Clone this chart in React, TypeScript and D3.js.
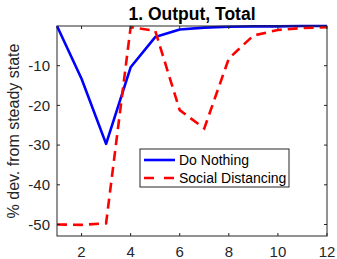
import { useEffect, useRef } from 'react';
import * as d3 from 'd3';

const periods = [1, 2, 3, 4, 5, 6, 7, 8, 9, 10, 11, 12];
const doNothing = [0, -13.3, -29.7, -10.4, -2.8, -0.9, -0.4, -0.2, -0.1, -0.1, 0, 0];
const socialDistancing = [-50, -50.1, -49.7, -0.3, -1.2, -21.2, -25.8, -8.2, -2.4, -1.0, -0.5, -0.3];
const xTicks = [2, 4, 6, 8, 10, 12];
const yTicks = [-50, -40, -30, -20, -10];

export default function App() {
  const svgRef = useRef<SVGSVGElement>(null);

  useEffect(() => {
    if (!svgRef.current) return;
    const svg = d3.select(svgRef.current);
    svg.selectAll('*').remove();

    const width = 337;
    const height = 259;
    const margin = { top: 26, right: 10, bottom: 23, left: 57 };
    const innerWidth = width - margin.left - margin.right;
    const innerHeight = height - margin.top - margin.bottom;
    const font = '"Liberation Sans", Arial, sans-serif';
    const axisColor = '#262626';

    const g = svg.append('g').attr('transform', `translate(${margin.left},${margin.top})`);

    const x = d3.scaleLinear().domain([1, 12]).range([0, innerWidth]);
    const y = d3.scaleLinear().domain([-52.9, 0]).range([innerHeight, 0]);

    // Lines
    const line = d3.line<number>()
      .x((_, i) => x(periods[i]))
      .y(d => y(d));

    g.append('path')
      .datum(doNothing)
      .attr('fill', 'none')
      .attr('stroke', '#0000ff')
      .attr('stroke-width', 2.6)
      .attr('stroke-linejoin', 'round')
      .attr('d', line);

    g.append('path')
      .datum(socialDistancing)
      .attr('fill', 'none')
      .attr('stroke', '#ff0000')
      .attr('stroke-width', 2.6)
      .attr('stroke-dasharray', '10,6')
      .attr('d', line);

    // Box
    g.append('rect')
      .attr('width', innerWidth)
      .attr('height', innerHeight)
      .attr('fill', 'none')
      .attr('stroke', axisColor)
      .attr('stroke-width', 1);

    const tl = 3;
    xTicks.forEach(t => {
      g.append('line').attr('x1', x(t)).attr('x2', x(t)).attr('y1', innerHeight).attr('y2', innerHeight - tl).attr('stroke', axisColor);
      g.append('line').attr('x1', x(t)).attr('x2', x(t)).attr('y1', 0).attr('y2', tl).attr('stroke', axisColor);
      g.append('text')
        .attr('x', x(t))
        .attr('y', innerHeight + 21)
        .attr('text-anchor', 'middle')
        .style('font-family', font)
        .style('font-size', '15px')
        .style('fill', axisColor)
        .text(t);
    });

    yTicks.forEach(t => {
      g.append('line').attr('x1', 0).attr('x2', tl).attr('y1', y(t)).attr('y2', y(t)).attr('stroke', axisColor);
      g.append('line').attr('x1', innerWidth).attr('x2', innerWidth - tl).attr('y1', y(t)).attr('y2', y(t)).attr('stroke', axisColor);
      g.append('text')
        .attr('x', -7)
        .attr('y', y(t))
        .attr('dy', '0.35em')
        .attr('text-anchor', 'end')
        .style('font-family', font)
        .style('font-size', '15px')
        .style('fill', axisColor)
        .text(t);
    });

    // Y label
    g.append('text')
      .attr('transform', 'rotate(-90)')
      .attr('x', -innerHeight / 2)
      .attr('y', -38)
      .attr('text-anchor', 'middle')
      .style('font-family', font)
      .style('font-size', '16px')
      .style('fill', axisColor)
      .text('% dev. from steady state');

    // Title
    svg.append('text')
      .attr('x', margin.left + innerWidth / 2)
      .attr('y', 20)
      .attr('text-anchor', 'middle')
      .style('font-family', font)
      .style('font-size', '17.5px')
      .style('font-weight', 'bold')
      .style('fill', '#000')
      .text('1. Output, Total');

    // Legend
    const legend = svg.append('g').attr('transform', 'translate(140,149)');
    legend.append('rect')
      .attr('width', 149)
      .attr('height', 38)
      .attr('fill', '#fff')
      .attr('stroke', axisColor)
      .attr('stroke-width', 1);

    const entries = [
      { label: 'Do Nothing', color: '#0000ff', dash: null },
      { label: 'Social Distancing', color: '#ff0000', dash: '10,10' },
    ];
    entries.forEach((e, i) => {
      const ly = 11 + i * 18;
      const l = legend.append('line')
        .attr('x1', 4)
        .attr('x2', 35)
        .attr('y1', ly)
        .attr('y2', ly)
        .attr('stroke', e.color)
        .attr('stroke-width', 2.6);
      if (e.dash) l.attr('stroke-dasharray', e.dash);
      legend.append('text')
        .attr('x', 39)
        .attr('y', ly)
        .attr('dy', '0.35em')
        .style('font-family', font)
        .style('font-size', '14px')
        .style('fill', '#000')
        .text(e.label);
    });
  }, []);

  return (
    <svg
      ref={svgRef}
      width={337}
      height={259}
      style={{ position: 'absolute', left: 0, top: 0, background: '#fff' }}
    />
  );
}
